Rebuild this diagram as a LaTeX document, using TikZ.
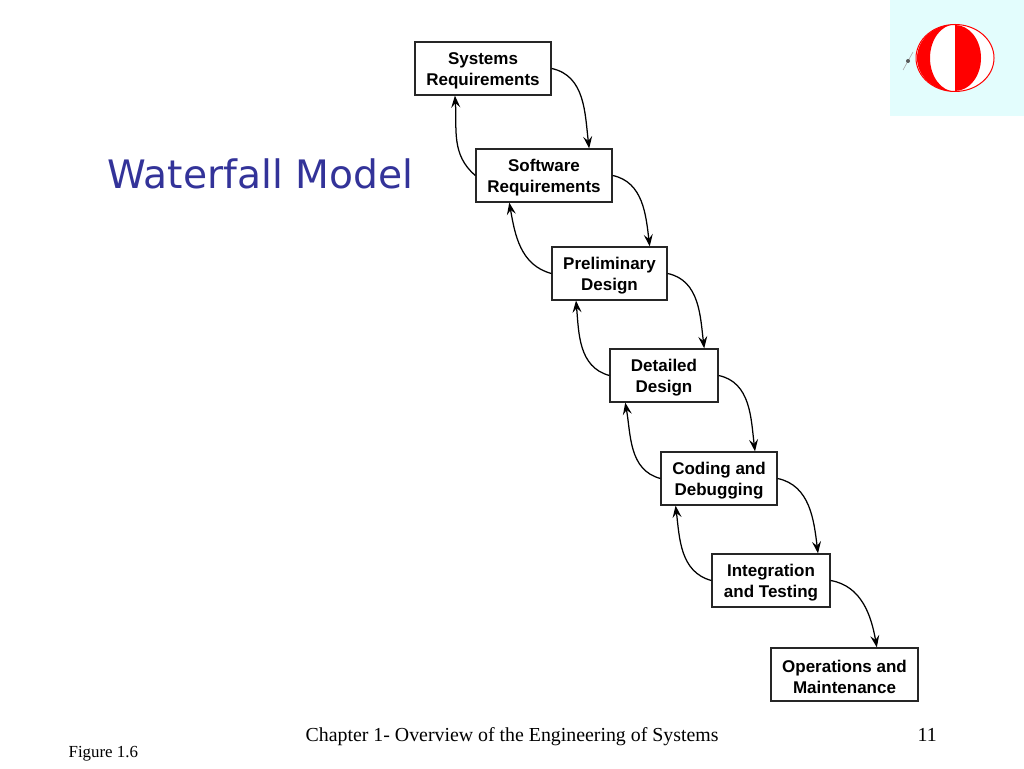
\documentclass[tikz,border=0pt]{standalone}
\usepackage{fontspec}
\setmainfont{Liberation Serif}
\setsansfont{Liberation Sans}
\newfontfamily\titlefont{DejaVu Sans}
\usetikzlibrary{arrows.meta}
\definecolor{titleblue}{HTML}{333399}
\definecolor{logored}{HTML}{FF0000}
\definecolor{logobg}{HTML}{E3FDFD}
\newcommand{\twolines}[2]{\rule{0pt}{17pt}#1\\#2}
\begin{document}
\begin{tikzpicture}[x=1pt,y=1pt,>={Stealth[length=12pt,width=9pt,inset=4.5pt]},line width=1.25pt]
  \tikzstyle{stage}=[draw=black!85,fill=white,line width=1.25pt,inner sep=0pt,align=center,
                     font=\sffamily\bfseries\fontsize{17}{20.5}\selectfont]
  \useasboundingbox (0,0) rectangle (1024,768);

  % logo
  \fill[logobg] (890,768) rectangle (1024,652);
  \draw[logored,fill=white,line width=1pt] (955,710) ellipse [x radius=39,y radius=33.5];
  \fill[logored] (955,743.5) arc [start angle=90,end angle=270,x radius=38,y radius=33.5]
     arc [start angle=270,end angle=90,x radius=25,y radius=33.5] -- cycle;
  \fill[logored] (955,743) arc [start angle=90,end angle=-90,x radius=26,y radius=33] -- cycle;
  \draw[gray!70,line width=0.6pt] (903,698) -- (913,716);
  \fill[black!65] (908,707) circle (2pt);

  \node[stage,minimum width=136pt,minimum height=53pt] (SR) at (483,699.5) {\twolines{Systems}{Requirements}};
  \node[stage,minimum width=136pt,minimum height=53pt] (SW) at (544,592.5) {\twolines{Software}{Requirements}};
  \node[stage,minimum width=115pt,minimum height=53pt] (PD) at (609.5,494.5) {\twolines{Preliminary}{Design}};
  \node[stage,minimum width=108pt,minimum height=53pt] (DD) at (664,392.5) {\twolines{Detailed}{Design}};
  \node[stage,minimum width=116pt,minimum height=53pt] (CD) at (719,289.5) {\twolines{Coding and}{Debugging}};
  \node[stage,minimum width=118pt,minimum height=53pt] (IT) at (771,187.5) {\twolines{Integration}{and Testing}};
  \node[stage,minimum width=147pt,minimum height=53pt] (OM) at (844.5,93.5) {\twolines{Operations and}{Maintenance}};

  \path[->] (SR.east) edge [out=-12,in=97] (SW.31)
        (SW.east) edge [out=-12,in=97] (PD.34.5)
        (PD.east) edge [out=-12,in=97] (DD.34)
        (DD.east) edge [out=-12,in=97] (CD.37)
        (CD.east) edge [out=-12,in=97] (IT.30.5)
        (IT.east) edge [out=-10,in=100] (OM.40)
        (SW.west) edge [out=140,in=274] (SR.224.5)
        (PD.west) edge [out=165,in=280] (SW.218.8)
        (DD.west) edge [out=165,in=275] (PD.219)
        (CD.west) edge [out=165,in=280] (DD.215.6)
        (IT.west) edge [out=165,in=277] (CD.212.9);

  \node[text=titleblue,anchor=base west,inner sep=0pt,font=\titlefont\fontsize{39.2}{39}\selectfont] (title) at (107,579) {Waterfall Model};
  \node[anchor=base west,inner sep=0pt,font=\fontsize{19.85}{22}\selectfont] (chapter) at (305,26.5) {Chapter 1- Overview of the Engineering of Systems};
  \node[anchor=base west,inner sep=0pt,font=\fontsize{19.85}{22}\selectfont] (page) at (917,26.5) {11};
  \node[anchor=base west,inner sep=0pt,font=\fontsize{16.9}{18}\selectfont] (figure) at (68,11) {Figure 1.6};
\end{tikzpicture}
\end{document}
